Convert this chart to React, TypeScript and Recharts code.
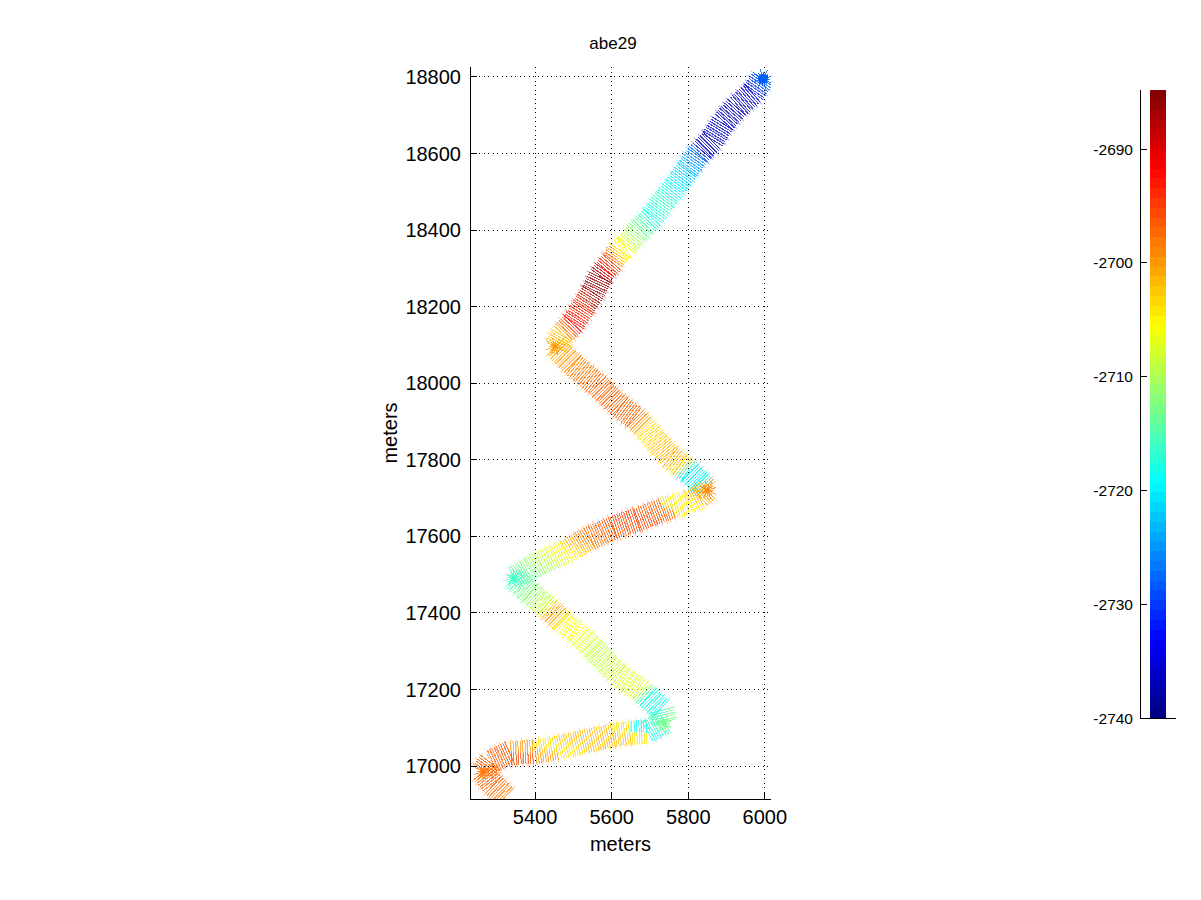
import React from 'react';
import { ComposedChart, Line, XAxis, YAxis, CartesianGrid, ReferenceArea, Scatter } from 'recharts';

const trackX = [5995,5969,5927,5890,5862,5836,5825,5797,5765,5734,5705,5666,5635,5622,5601,5583,5570,5551,5525,5499,5470,5452,5499,5562,5622,5661,5692,5752,5778,5804,5830,5851,5830,5797,5757,5734,5666,5604,5543,5478,5413,5343,5387,5426,5447,5478,5510,5562,5617,5674,5695,5731,5739,5692,5648,5604,5525,5457,5395,5335,5283,5264,5290,5324];
const trackY = [18795,18758,18722,18680,18635,18609,18596,18557,18513,18473,18434,18393,18356,18348,18317,18296,18278,18238,18197,18157,18126,18095,18048,17996,17938,17909,17878,17807,17787,17768,17742,17721,17703,17687,17677,17669,17643,17622,17596,17559,17531,17491,17452,17418,17400,17369,17348,17296,17238,17199,17181,17147,17115,17089,17087,17081,17063,17047,17037,17034,17011,16985,16951,16919];
const depth = [-2727,-2735,-2737,-2736,-2737,-2735,-2727,-2722,-2719,-2716,-2718,-2712,-2706,-2705,-2696,-2691,-2686,-2686,-2694,-2692,-2702,-2702,-2699,-2697,-2697,-2697,-2704,-2701,-2703,-2720,-2719,-2700,-2701,-2705,-2704,-2697,-2695,-2696,-2698,-2705,-2710,-2716,-2712,-2708,-2700,-2706,-2706,-2709,-2708,-2707,-2718,-2718,-2713,-2719,-2704,-2702,-2702,-2704,-2700,-2696,-2697,-2697,-2697,-2699];

const turnX = [5452,5851,5343,5735,5264];
const turnY = [18095,17721,17491,17112,16985];
const turnDepth = [-2700,-2699,-2716,-2713,-2698];
const startX = [5995];
const startY = [18795];
const startDepth = [-2728];

const xTicks = [5400,5600,5800,6000];
const yTicks = [17000,17200,17400,17600,17800,18000,18200,18400,18600,18800];
const xDomain = [5230,6016];
const yDomain = [16914,18826];

const cbarTicks = [-2740,-2730,-2720,-2710,-2700,-2690];
const cbarMin = -2740;
const cbarMax = -2684.8;
const LEVELS = 64;

const FONT = '"Liberation Sans", Arial, sans-serif';

function jet(t: number): string {
  const c = (v: number) => Math.round(255 * Math.max(0, Math.min(1, v)));
  const r = 1.5 - Math.abs(4 * t - 3);
  const g = 1.5 - Math.abs(4 * t - 2);
  const b = 1.5 - Math.abs(4 * t - 1);
  return `rgb(${c(r)},${c(g)},${c(b)})`;
}
const colorOf = (d: number) => jet((d - cbarMin) / (cbarMax - cbarMin));

const segments = trackX.slice(1).map((_, i) => ({
  id: i,
  from: depth[i],
  to: depth[i + 1],
  right: trackX[i + 1] >= trackX[i],
  points: [
    { x: trackX[i], y: trackY[i] },
    { x: trackX[i + 1], y: trackY[i + 1] },
  ],
}));

const turns = turnX.map((x, i) => ({ x, y: turnY[i], depth: turnDepth[i] }));
const starts = startX.map((x, i) => ({ x, y: startY[i], depth: startDepth[i] }));

const Burst = (props: any) => {
  const { cx, cy, payload, radius = 9, core = 2 } = props;
  const n = 16;
  const lines = [];
  for (let i = 0; i < n; i++) {
    const a = (i / n) * Math.PI * 2 + 0.1;
    const r = i % 2 ? radius : radius * 0.7;
    lines.push(
      <line key={i} x1={cx} y1={cy} x2={cx + r * Math.cos(a)} y2={cy + r * Math.sin(a)} stroke={colorOf(payload.depth)} strokeWidth={1} strokeOpacity={0.8} shapeRendering="crispEdges" />
    );
  }
  return <g>{lines}<circle cx={cx} cy={cy} r={core} fill={colorOf(payload.depth)} /></g>;
};

const levels = Array.from({ length: LEVELS }, (_, i) => ({
  y1: cbarMin + ((cbarMax - cbarMin) * i) / LEVELS,
  y2: cbarMin + ((cbarMax - cbarMin) * (i + 1)) / LEVELS,
  fill: jet((i + 0.5) / LEVELS),
}));

const axisLine = { stroke: '#000', strokeWidth: 1, shapeRendering: 'crispEdges' } as any;
const tickLine = { stroke: '#000', strokeWidth: 1, shapeRendering: 'crispEdges' } as any;

export default function App() {
  return (
    <div style={{ position: 'absolute', left: 0, top: 0, width: 1201, height: 900, background: '#fff', fontFamily: FONT }}>
      <div style={{ position: 'absolute', left: 513, width: 200, top: 34, textAlign: 'center', fontSize: 17, lineHeight: '20px', color: '#000' }}>abe29</div>
      <div style={{ position: 'absolute', left: 0, top: 0 }}>
        <ComposedChart width={1201} height={900} margin={{ left: 380, right: 430, top: 67, bottom: 51 }} style={{ fontFamily: FONT }}>
          <defs>
            {segments.map((s) => (
              <linearGradient key={s.id} id={`seg${s.id}`} x1={s.right ? 0 : 1} y1={0} x2={s.right ? 1 : 0} y2={1}>
                <stop offset="0%" stopColor={colorOf(s.from)} />
                <stop offset="100%" stopColor={colorOf(s.to)} />
              </linearGradient>
            ))}
          </defs>
          <CartesianGrid stroke="#000" strokeDasharray="1 3.5" shapeRendering="crispEdges" horizontalValues={yTicks} verticalValues={xTicks} />
          <XAxis
            type="number" dataKey="x" domain={xDomain} ticks={xTicks} allowDataOverflow height={50}
            axisLine={axisLine} tickLine={tickLine} tickSize={-7} tickMargin={18} interval={0}
            tick={{ fontSize: 20, fill: '#000' }}
            label={{ value: 'meters', position: 'insideBottom', offset: -2, fontSize: 20, fill: '#000' }}
          />
          <YAxis
            type="number" dataKey="y" domain={yDomain} ticks={yTicks} allowDataOverflow width={90}
            axisLine={axisLine} tickLine={tickLine} tickSize={-7} tickMargin={16} interval={0}
            tick={{ fontSize: 20, fill: '#000' }}
            label={{ value: 'meters', angle: -90, position: 'insideLeft', offset: 10, fontSize: 20, fill: '#000', style: { textAnchor: 'middle' } }}
          />
          {segments.map((s) => (
            <Line
              key={`halo${s.id}`} data={s.points} dataKey="y" type="linear" dot={false} activeDot={false}
              stroke={`url(#seg${s.id})`} strokeWidth={29} strokeDasharray="1 4.3" strokeOpacity={0.35}
              isAnimationActive={false} legendType="none"
            />
          ))}
          {segments.map((s) => (
            <Line
              key={s.id} data={s.points} dataKey="y" type="linear" dot={false} activeDot={false}
              stroke={`url(#seg${s.id})`} strokeWidth={24} strokeDasharray="1 1.4" strokeOpacity={0.72}
              shapeRendering="crispEdges" isAnimationActive={false} legendType="none"
            />
          ))}
          <Scatter data={turns} dataKey="y" shape={<Burst radius={9} core={1.5} />} isAnimationActive={false} />
          <Scatter data={starts} dataKey="y" shape={<Burst radius={10} core={5} />} isAnimationActive={false} />
        </ComposedChart>
      </div>
      <div style={{ position: 'absolute', left: 0, top: 0 }}>
        <ComposedChart width={1201} height={900} data={[{ x: 0 }, { x: 1 }]} margin={{ left: 1040, right: 25, top: 90, bottom: 152 }} style={{ fontFamily: FONT }}>
          <XAxis type="number" dataKey="x" domain={[0, 1]} ticks={[]} height={30} axisLine={axisLine} tick={false} tickLine={false} />
          <YAxis
            type="number" domain={[cbarMin, cbarMax]} ticks={cbarTicks} width={100} interval={0} allowDataOverflow
            axisLine={axisLine} tickLine={tickLine} tickSize={-7} tickMargin={14}
            tick={{ fontSize: 15.5, fill: '#000' }}
          />
          {levels.map((l, i) => (
            <ReferenceArea key={i} x1={0.278} x2={0.722} y1={l.y1} y2={l.y2} fill={l.fill} fillOpacity={1} stroke="none" shapeRendering="crispEdges" />
          ))}
        </ComposedChart>
      </div>
    </div>
  );
}
